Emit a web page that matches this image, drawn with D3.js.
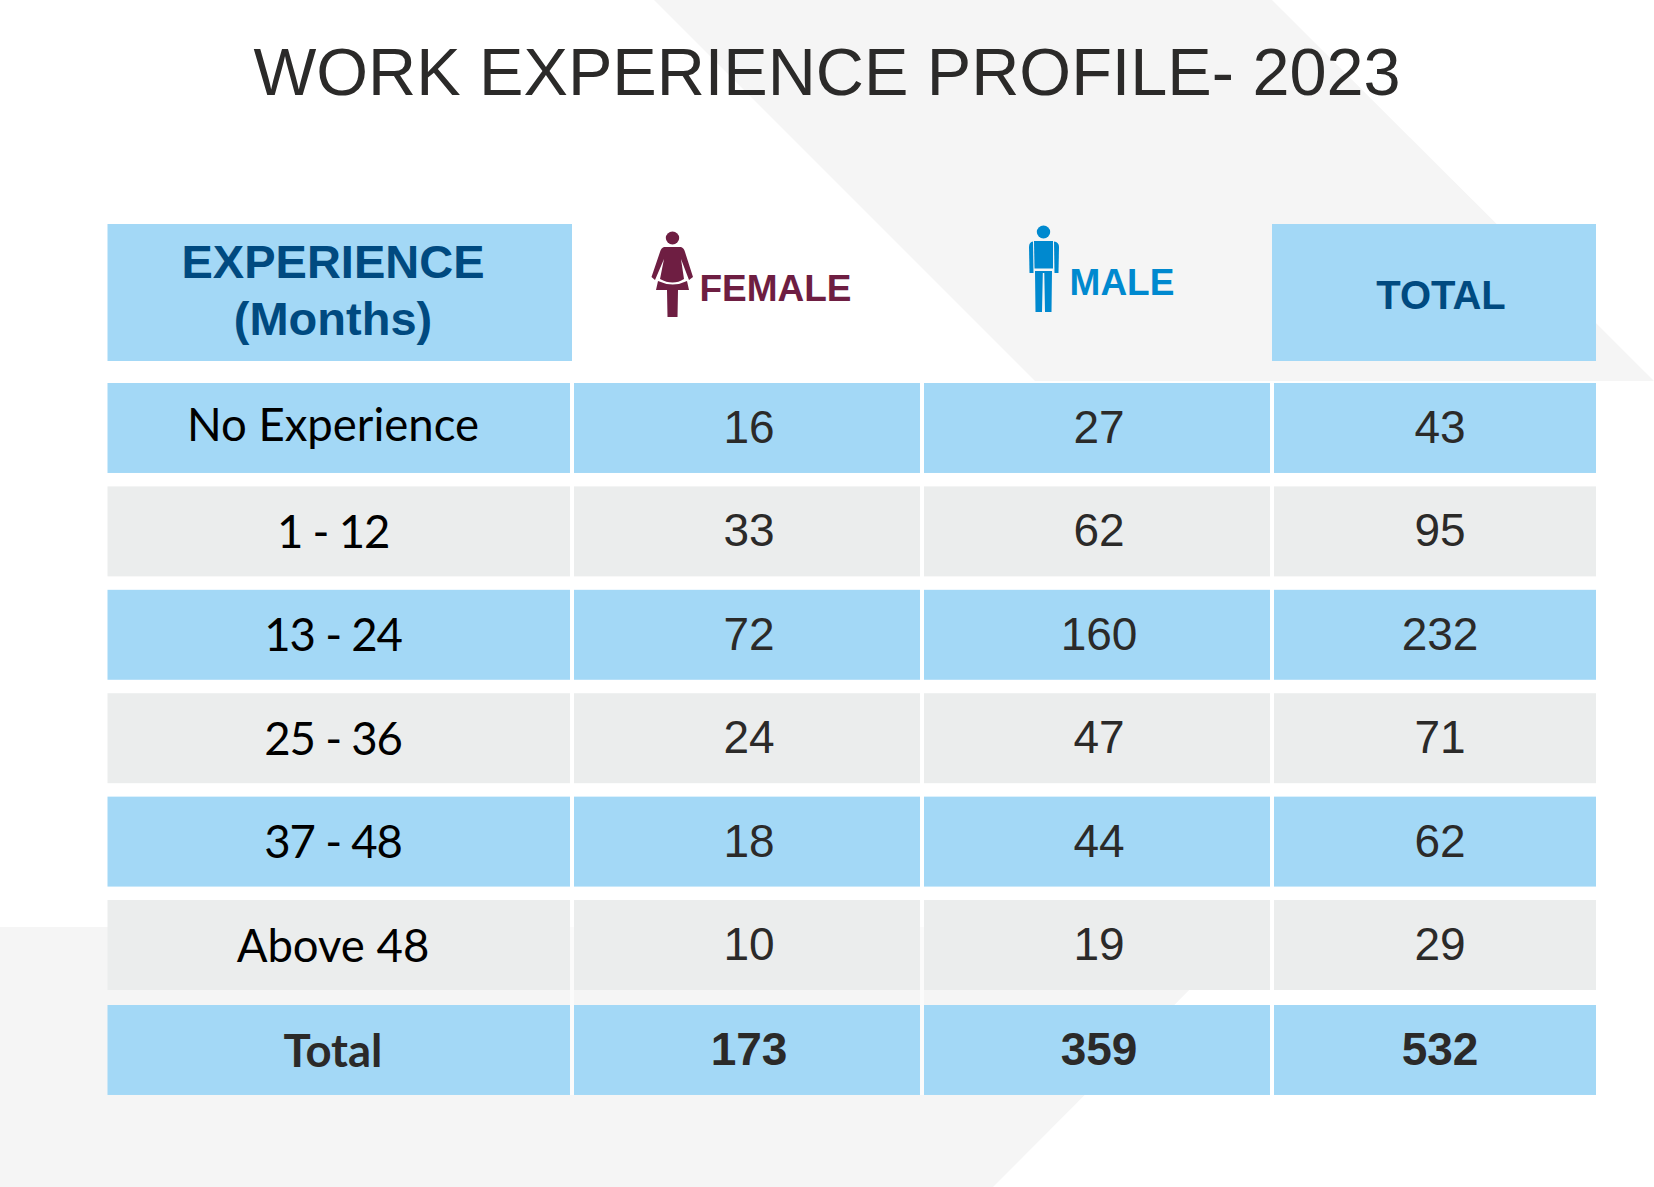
<!DOCTYPE html>
<html>
<head>
<meta charset="utf-8">
<title>Work Experience Profile 2023</title>
<script src="https://cdn.jsdelivr.net/npm/d3@7"></script>
<style>
  body { margin: 0; background: #fff; }
  svg { display: block; }
  text { text-anchor: middle; }
</style>
</head>
<body>
<div id="chart"></div>
<script>
// Table values
var categories = ["No Experience", "1 - 12", "13 - 24", "25 - 36", "37 - 48", "Above 48", "Total"];
var female = [16, 33, 72, 24, 18, 10, 173];
var male = [27, 62, 160, 47, 44, 19, 359];
var total = [43, 95, 232, 71, 62, 29, 532];

var width = 1654, height = 1187;
var sans = "'Liberation Sans', Arial, sans-serif";
var labelFont = "Lato, sans-serif";
var blue = "#a3d8f6", gray = "#ebeded", bgGray = "#f5f5f5", ink = "#2b2a29", navy = "#004a80";

var svg = d3.select("#chart").append("svg").attr("width", width).attr("height", height);

// Background shapes
var line = d3.line();
[[[654, 0], [1272, 0], [1654, 381], [1035, 381]],
 [[0, 927], [1252, 927], [993, 1187], [0, 1187]]].forEach(function(p) {
  svg.append("path").attr("d", line(p) + "Z").attr("fill", bgGray);
});

// Title
svg.append("text").attr("x", 827).attr("y", 95)
  .style("font", "66.6px " + sans).attr("fill", ink)
  .text("WORK EXPERIENCE PROFILE- 2023");

// Layout: the first six rows share one step, the Total row sits a little lower
var y = d3.scaleBand().domain(categories.slice(0, 6)).range([383, 990]).paddingInner(0.13);
var rowHeight = y.bandwidth();
function rowTop(cat) {
  return cat === "Total" ? 1005 : y(cat);
}
var columns = [
  { x0: 107.5, x1: 570, cx: 333, values: categories },
  { x0: 574, x1: 920, cx: 749, values: female },
  { x0: 924, x1: 1270, cx: 1099, values: male },
  { x0: 1274, x1: 1596, cx: 1440, values: total }
];

// White column gaps that show across the grey background
[572, 922, 1272].forEach(function(x) {
  svg.append("line").attr("x1", x).attr("x2", x).attr("y1", 383).attr("y2", 1095)
    .attr("stroke", "#fff").attr("stroke-opacity", 0.6).attr("stroke-width", 4);
});

// Header boxes
svg.append("rect").attr("x", 107.5).attr("y", 224).attr("width", 464.5).attr("height", 137).attr("fill", blue);
svg.append("rect").attr("x", 1272).attr("y", 224).attr("width", 324).attr("height", 137).attr("fill", blue);

svg.append("text").attr("x", 333).attr("y", 278)
  .style("font", "bold 47px " + sans).attr("fill", navy).text("EXPERIENCE");
svg.append("text").attr("x", 333).attr("y", 335)
  .style("font", "bold 47px " + sans).attr("fill", navy).text("(Months)");
svg.append("text").attr("x", 1441).attr("y", 309)
  .style("font", "bold 40px " + sans).attr("fill", navy).text("TOTAL");
svg.append("text").attr("x", 775.5).attr("y", 301)
  .style("font", "bold 37px " + sans).attr("fill", "#6e1e42").text("FEMALE");
svg.append("text").attr("x", 1122).attr("y", 295)
  .style("font", "bold 37px " + sans).attr("fill", "#0089cf").text("MALE");

// Female icon
var femaleIcon = svg.append("g").attr("fill", "#6e1e42");
femaleIcon.append("ellipse").attr("cx", 672.5).attr("cy", 238).attr("rx", 6.7).attr("ry", 6.5);
femaleIcon.append("path").attr("d",
  "M664 247 L681 247 Q684 248 685 252 L693 277 L689 280 L681 259 L684 279 Q673 286 660 279 L664 259 L655 280 L651.5 277 L660 252 Q661 248 664 247 Z");
femaleIcon.append("path").attr("d",
  "M658 281 Q673 288 687 281 L689 290 L678 290 L677.5 317 L667.5 317 L667 290 L656 290 Z");

// Male icon
var maleIcon = svg.append("g").attr("fill", "#0089cf");
maleIcon.append("ellipse").attr("cx", 1043.5).attr("cy", 232).attr("rx", 6.7).attr("ry", 6.5);
maleIcon.append("path").attr("d",
  "M1034 241 L1053 241 L1053 268.5 L1034.5 268.5 Z");
maleIcon.append("path").attr("d",
  "M1033 241.5 L1033.5 273 L1029.5 273 L1029 247 Q1029 242 1033 241.5 Z");
maleIcon.append("path").attr("d",
  "M1054 241.5 Q1059 242 1059 247 L1058.5 273 L1054.5 273 Z");
maleIcon.append("path").attr("d",
  "M1035 271 L1052 271 L1051.5 312 L1045 312 L1044.3 273 L1042.8 273 L1042 312 L1035.5 312 Z");

// Table rows
categories.forEach(function(cat, i) {
  var isTotal = cat === "Total";
  var isRange = /\d - \d/.test(cat);
  columns.forEach(function(col, j) {
    svg.append("rect")
      .attr("x", col.x0).attr("y", rowTop(cat))
      .attr("width", col.x1 - col.x0).attr("height", rowHeight)
      .attr("fill", i % 2 === 0 ? blue : gray);

    // No Experience sits higher in its cell than the other labels
    var labelOffset = i === 0 ? 57.5 : 61.5;
    var font = (isTotal ? "bold " : "") + (j === 0 ? "45.5px " + labelFont : "46px " + sans);
    svg.append("text")
      .attr("x", col.cx)
      .attr("y", rowTop(cat) + (j === 0 ? labelOffset : 60))
      .style("font", font)
      .style("letter-spacing", j === 0 && isRange ? "-1.2px" : null)
      .attr("fill", j === 0 && !isTotal ? "#000" : ink)
      .text(col.values[i]);
  });
});
</script>
</body>
</html>
